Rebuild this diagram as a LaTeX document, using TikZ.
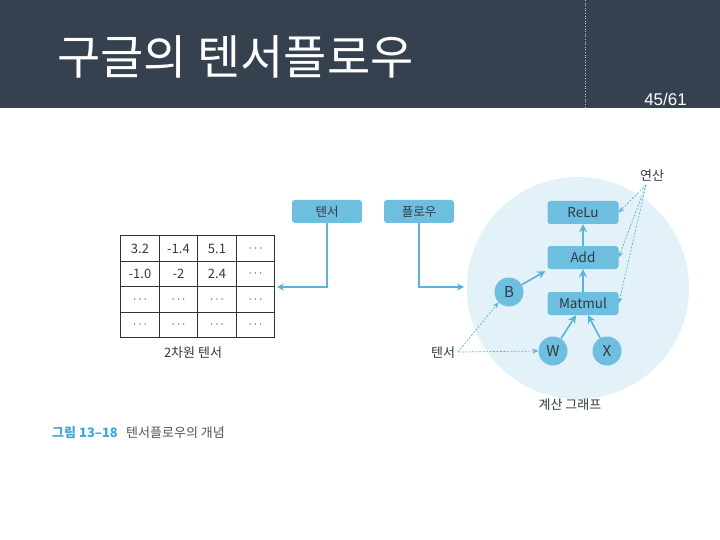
\documentclass[tikz,border=0pt]{standalone}
\usepackage{fontspec}
\setmainfont{Noto Sans CJK KR}
\newfontfamily\numfont{Liberation Sans}
\usetikzlibrary{arrows.meta,positioning}
\definecolor{hdr}{HTML}{36414F}
\definecolor{boxb}{HTML}{6EBEE0}
\definecolor{arr}{HTML}{5AB3D9}
\definecolor{circ}{HTML}{E3F1F9}
\definecolor{txt}{HTML}{2E3A44}
\definecolor{capb}{HTML}{3DA9D4}
\definecolor{capg}{HTML}{555555}
\tikzset{
  cell/.style={draw=black!80,line width=0.9pt,minimum width=38.5pt,minimum height=25.5pt,inner sep=0pt},
  opbox/.style={fill=boxb,rounded corners=3pt,minimum width=71pt,minimum height=23pt,inner sep=0pt,font=\fontsize{13.5}{14}\selectfont,text=txt},
  tbox/.style={fill=boxb,rounded corners=3pt,minimum width=70pt,minimum height=23pt,inner sep=0pt,font=\fontsize{12.5}{13}\selectfont,text=txt},
  vnode/.style={circle,fill=boxb,minimum size=29pt,inner sep=0pt,font=\fontsize{15}{16}\selectfont,text=txt},
  solidarr/.style={draw=arr,line width=1.6pt,-{Stealth[length=8pt,width=8pt]}},
  thinarr/.style={draw=arr,line width=1.3pt,-{Stealth[length=7pt,width=7pt]}},
  dasharr/.style={draw=arr,line width=0.7pt,dashed,dash pattern=on 2pt off 1.5pt,-{Stealth[length=6pt,width=5pt]}},
  lbl/.style={font=\fontsize{13}{14}\selectfont,text=txt,inner sep=1pt},
  dots/.style={font=\fontsize{12}{13}\selectfont,text=txt,inner sep=0pt}
}
\begin{document}
\begin{tikzpicture}[x=1pt,y=-1pt]
\useasboundingbox (0,0) rectangle (720,540);
\fill[white] (0,0) rectangle (720,540);
\fill[hdr] (0,0) rectangle (720,108);
\draw[white!70!hdr,dotted,line width=0.6pt] (585,0) -- (585,108);
\node[anchor=base west,text=white,inner sep=0pt,font=\fontsize{47}{52}\selectfont] (title) at (57,75) {구글의 텐서플로우};
\node[anchor=base east,text=white,inner sep=0pt,font=\numfont\fontsize{17}{18}\selectfont] (page) at (687,106) {45/61};

% table
\foreach \r/\y in {1/248.5,2/274,3/299.5,4/325}{
  \foreach \c/\x in {1/140,2/178.5,3/217,4/255.5}{
    \node[cell] (c\r\c) at (\x,\y) {};
  }
}
\node at (c11) [lbl] {3.2};
\node at (c12) [lbl] {-1.4};
\node at (c13) [lbl] {5.1};
\node at (c14) [dots] {$\cdots$};
\node at (c21) [lbl] {-1.0};
\node at (c22) [lbl] {-2};
\node at (c23) [lbl] {2.4};
\node at (c24) [dots] {$\cdots$};
\foreach \c in {1,2,3,4}{\node at (c3\c) [dots] {$\cdots$}; \node at (c4\c) [dots] {$\cdots$};}
\node[lbl] (tlabel) at (193,353) {2차원 텐서};

% top boxes
\node[tbox] (tensor) at (327,211.5) {텐서};
\node[tbox] (flow) at (419,211.5) {플로우};
\coordinate (tin) at (277,287);
\draw[thinarr] (tensor.south) |- (tin);

% graph circle
\node[circle,fill=circ,minimum size=222pt,inner sep=0pt] (graph) at (578,288) {};
\coordinate (fin) at (464,287);
\draw[thinarr] (flow.south) |- (fin);

\node[opbox] (relu) at (583,212.5) {ReLu};
\node[opbox] (add) at (583,257.5) {Add};
\node[opbox] (matmul) at (583,303.5) {Matmul};
\node[vnode] (B) at (509,292) {B};
\node[vnode] (W) at (553,351) {W};
\node[vnode] (X) at (607,351) {X};

\draw[solidarr] (add) -- (relu);
\draw[solidarr] (matmul) -- (add);
\draw[solidarr] (B) -- ([xshift=-2pt,yshift=-2pt]add.south west);
\draw[solidarr] (W) -- ([xshift=-7pt]matmul.south);
\draw[solidarr] (X) -- ([xshift=5pt]matmul.south);

\node[lbl] (yeonsan) at (652,176) {연산};
\coordinate (ys) at (646,185);
\draw[dasharr] (ys) -- (relu.east);
\draw[dasharr] (ys) -- (add.east);
\draw[dasharr] (ys) -- (matmul.east);

\node[lbl] (tlab2) at (443,353) {텐서};
\coordinate (ts) at (458,352);
\draw[dasharr] (ts) -- (W.west);
\draw[dasharr] (ts) -- (B.south west);

\node[lbl] (glabel) at (570,405) {계산 그래프};

% caption
\node[anchor=west,inner sep=0pt,text=capb,font=\bfseries\fontsize{13}{14}\selectfont] (cap1) at (52,433) {그림 13–18};
\node[anchor=west,inner sep=0pt,text=capg,font=\fontsize{13}{14}\selectfont] (cap2) at (126,433) {텐서플로우의 개념};
\end{tikzpicture}
\end{document}
